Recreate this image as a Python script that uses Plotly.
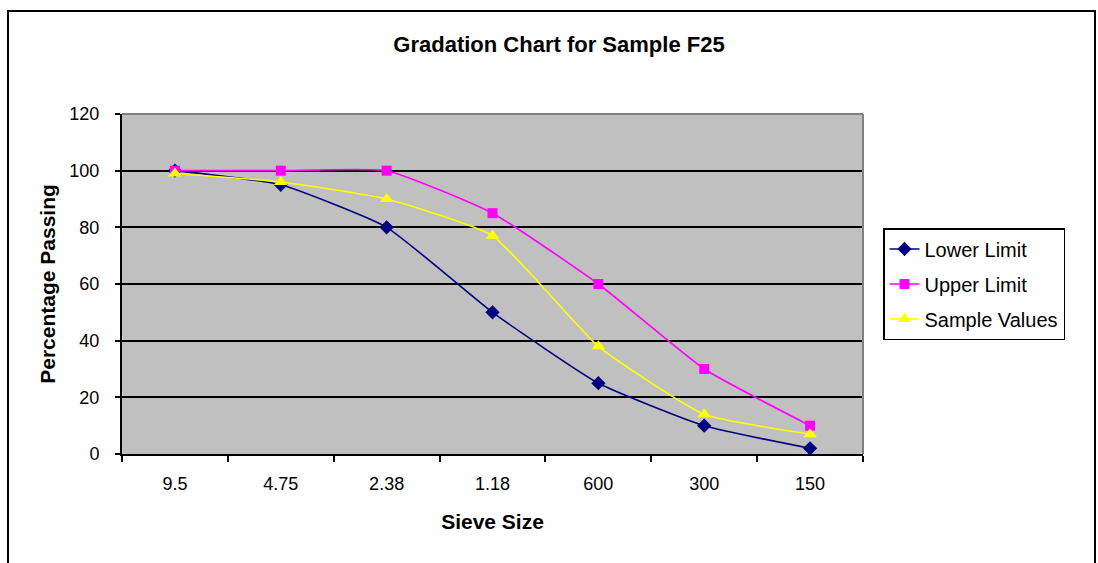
import plotly.graph_objects as go

sieve_sizes = ["9.5", "4.75", "2.38", "1.18", "600", "300", "150"]
lower_limit = [100, 95, 80, 50, 25, 10, 2]
upper_limit = [100, 100, 100, 85, 60, 30, 10]
sample_values = [99, 96, 90, 77, 38, 14, 7]
y_ticks = [0, 20, 40, 60, 80, 100, 120]

FONT = "Liberation Sans, Arial, sans-serif"

W, H = 1098, 563
L, R, T, B = 122, 235, 114, 109
pw, ph = W - L - R, H - T - B

def px_x(x):
    return (x - L) / pw

def px_y(y):
    return (H - B - y) / ph

fig = go.Figure()
series = [
    ("Lower Limit", lower_limit, "#000080", "diamond", 11),
    ("Upper Limit", upper_limit, "#FF00FF", "square", 10),
    ("Sample Values", sample_values, "#FFFF00", "triangle-up", 12),
]
for name, vals, col, sym, size in series:
    fig.add_trace(go.Scatter(
        x=sieve_sizes, y=vals, name=name, mode="lines+markers",
        line=dict(color=col, width=1.6, shape="spline", smoothing=0.45),
        marker=dict(symbol=sym, size=size, color=col),
        legendgroup=name,
    ))

shapes = [
    dict(type="rect", xref="paper", yref="paper",
         x0=px_x(8), x1=px_x(1095), y0=px_y(575), y1=px_y(11),
         line=dict(color="#000000", width=2), layer="above"),
    dict(type="line", xref="paper", yref="paper", x0=0, x1=1, y0=1, y1=1,
         line=dict(color="#808080", width=2), layer="above"),
    dict(type="line", xref="paper", yref="paper", x0=1, x1=1, y0=0, y1=1,
         line=dict(color="#808080", width=2), layer="above"),
]

fig.update_layout(
    width=W, height=H,
    margin=dict(l=L, r=R, t=T, b=B),
    paper_bgcolor="white",
    plot_bgcolor="#C0C0C0",
    font=dict(family=FONT, size=18, color="#000000"),
    title=dict(text="<b>Gradation Chart for Sample F25</b>",
               x=px_x(559), xanchor="center", xref="paper",
               y=1 - 44 / H, yanchor="middle", yref="container",
               font=dict(family=FONT, size=22, color="#000000")),
    xaxis=dict(
        type="category", range=[-0.5, 6.5], tickson="boundaries",
        ticks="outside", ticklen=6, tickwidth=2, tickcolor="#000000",
        showline=True, linecolor="#000000", linewidth=2,
        showgrid=False, zeroline=False,
        ticklabelstandoff=12,
        title=dict(text="<b>Sieve Size</b>", standoff=22,
                   font=dict(family=FONT, size=21)),
        tickfont=dict(family=FONT, size=18),
    ),
    yaxis=dict(
        range=[0, 120], tickvals=y_ticks,
        ticks="outside", ticklen=5, tickwidth=2, tickcolor="#000000",
        showline=True, linecolor="#000000", linewidth=2,
        showgrid=True, gridcolor="#000000", gridwidth=2,
        zeroline=False,
        ticklabelstandoff=12,
        title=dict(text="<b>Percentage Passing</b>", standoff=8,
                   font=dict(family=FONT, size=21)),
        tickfont=dict(family=FONT, size=18),
    ),
    legend=dict(
        x=px_x(883), xanchor="left", y=px_y(228), yanchor="top",
        bgcolor="white", bordercolor="#000000", borderwidth=1.5,
        font=dict(family=FONT, size=20), tracegroupgap=6,
        traceorder="grouped",
    ),
    shapes=shapes,
)

fig.write_html("out.html")
